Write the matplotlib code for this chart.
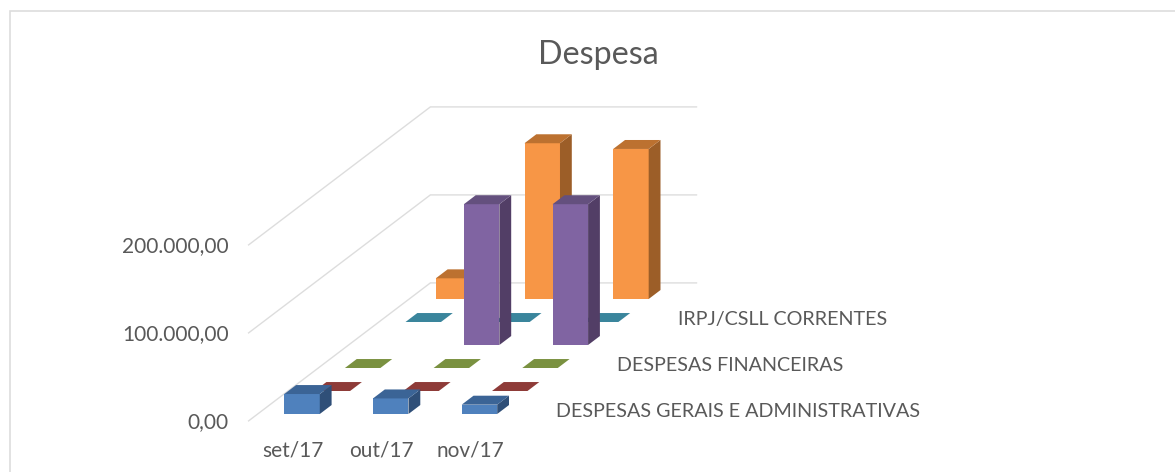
import numpy as np
import matplotlib
matplotlib.use("Agg")
import matplotlib.pyplot as plt
from matplotlib.patches import Polygon, Rectangle

plt.rcParams['font.family'] = ['Lato', 'DejaVu Sans']

# data, series are listed front row to back row, nan = nothing drawn
months = ["set/17", "out/17", "nov/17"]
series_labels = ["DESPESAS GERAIS E ADMINISTRATIVAS", "", "DESPESAS FINANCEIRAS", "", "IRPJ/CSLL CORRENTES", ""]
gerais = [22700, 17700, 10600]
pessoal = [0, 0, 0]
financeiras = [0, 0, 0]
outras = [np.nan, 160000, 160000]
irpj = [0, 0, 0]
impostos = [23500, 177000, 170500]
all_series = [gerais, pessoal, financeiras, outras, irpj, impostos]
value_ticks = [0, 100000, 200000]
value_labels = ["0,00", "100.000,00", "200.000,00"]

# front, top, side colours for every series
front_colors = ["#4F81BD", "#C0504D", "#9BBB59", "#8064A2", "#4BACC6", "#F79646"]
top_colors = ["#3B6496", "#8E3B38", "#7A9140", "#64507E", "#3A859C", "#BC7130"]
side_colors = ["#2F4F78", "#7A3230", "#66793A", "#523E66", "#30708A", "#9C5E28"]
TEXT = "#595959"
GRID = "#DDDDDD"

BAR_W = 0.40
BAR_D = 0.39


def project(cat, row, val):
    """oblique projection of (category, series row, value) to image pixels"""
    x = 284.3 + 88.7 * cat + 30.3 * row
    y = 414 - 23 * row - val * 88 / 100000
    return x, y


def draw_bar(ax, cat, row, val, i):
    p = lambda c, r, v: project(cat + c, row + r, v)
    if val > 0:
        ax.add_patch(Polygon([p(0, 0, 0), p(BAR_W, 0, 0), p(BAR_W, 0, val), p(0, 0, val)],
                             fc=front_colors[i], ec="none", zorder=3))
        ax.add_patch(Polygon([p(BAR_W, 0, 0), p(BAR_W, BAR_D, 0), p(BAR_W, BAR_D, val), p(BAR_W, 0, val)],
                             fc=side_colors[i], ec="none", zorder=3))
    ax.add_patch(Polygon([p(0, 0, val), p(BAR_W, 0, val), p(BAR_W, BAR_D, val), p(0, BAR_D, val)],
                         fc=top_colors[i], ec="none", zorder=3))


fig = plt.figure(figsize=(11.75, 4.72), dpi=100)
ax = fig.add_axes([0, 0, 1, 1])
ax.set_xlim(0, 1175)
ax.set_ylim(472, 0)
ax.axis("off")

# chart frame, runs off the right and bottom of the crop
ax.add_patch(Rectangle((10, 10.5), 1200, 500, fc="white", ec=GRID, lw=1.2, zorder=0))

ax.text(598, 54.5, "Despesa", ha="center", va="center", fontsize=23.2, color=TEXT)

# walls
for v, lab in zip(value_ticks, value_labels):
    pts = [project(-0.30, -0.30, v), project(-0.30, 5.70, v), project(2.70, 5.70, v)]
    ax.plot([q[0] for q in pts], [q[1] for q in pts], color=GRID, lw=1, zorder=1)
    x0, y0 = pts[0]
    ax.text(x0 - 20, y0 + 1.5, lab, ha="right", va="center", fontsize=15, color=TEXT)

# back row first so the front ones cover it
for i in range(len(all_series) - 1, -1, -1):
    for c, val in enumerate(all_series[i]):
        if not np.isnan(val):
            draw_bar(ax, c, i, val, i)
    if series_labels[i]:
        x, y = project(3, i, 0)
        ax.text(x + 6, y - 2.5, series_labels[i], ha="left", va="center", fontsize=14.2, color=TEXT)

for c, m in enumerate(months):
    x, y = project(c + 0.2, -0.30, 0)
    ax.text(x, y + 29.5, m, ha="center", va="center", fontsize=15, color=TEXT)

fig.savefig("out.png", dpi=100)
